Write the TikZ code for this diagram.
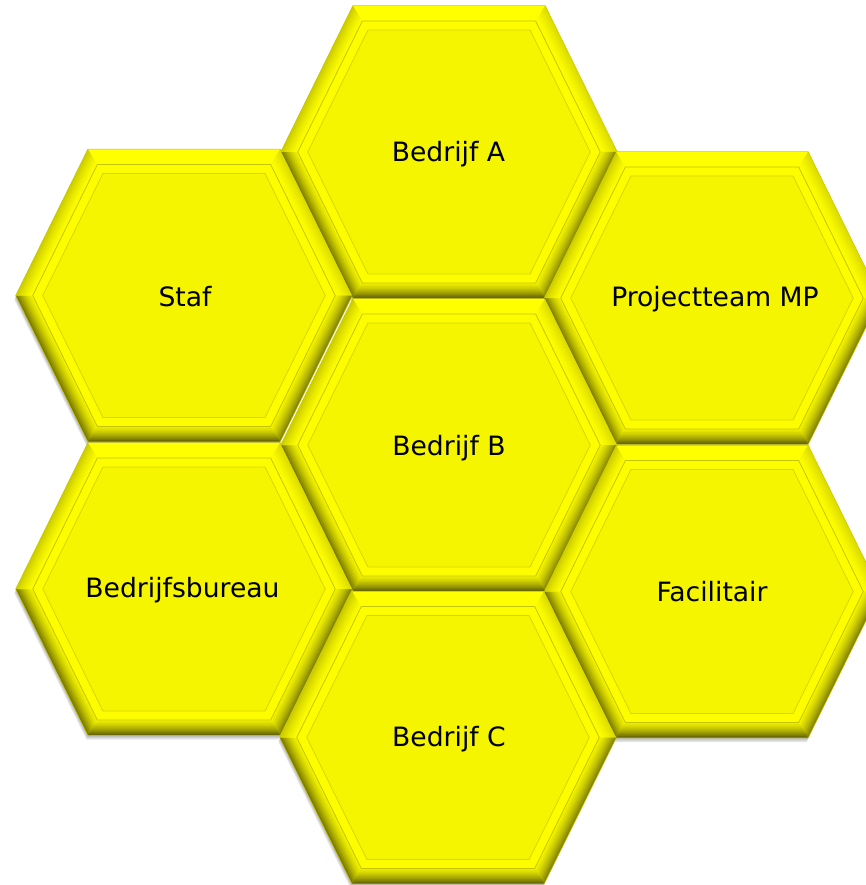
\documentclass[tikz,border=0pt]{standalone}
\usepackage{fontspec}
\setmainfont{DejaVu Sans}
\definecolor{baseC}{RGB}{200,200,0}
\definecolor{faceC}{RGB}{245,245,0}
\definecolor{bandC}{RGB}{253,253,0}
\definecolor{lineA}{RGB}{196,196,0}
\definecolor{lineB}{RGB}{214,214,0}
\definecolor{topO}{RGB}{255,255,0}
\definecolor{topI}{RGB}{255,255,0}
\definecolor{ulO}{RGB}{205,205,0}
\definecolor{ulI}{RGB}{255,255,0}
\definecolor{urO}{RGB}{220,220,0}
\definecolor{urI}{RGB}{255,255,0}
\definecolor{lrO}{RGB}{135,135,0}
\definecolor{lrI}{RGB}{245,245,0}
\definecolor{btO}{RGB}{105,105,0}
\definecolor{btI}{RGB}{240,240,0}
\definecolor{llO}{RGB}{125,125,0}
\definecolor{llI}{RGB}{245,245,0}
\tikzset{
  hexlabel/.style={font=\fontsize{26.6}{30}\selectfont, text=black, anchor=base, inner sep=0pt},
  hexshadowlayer/.style={fill=black, fill opacity=0.10},
}
% outer hexagon path (relative)
\newcommand\outerhex{(-168,0) -- (-96,-146) -- (96,-146) -- (168,0) -- (96,146) -- (-96,146) -- cycle}
\newcommand\hexcell[6]{% #1 name, #2 cx, #3 cy, #4 label x, #5 label baseline y, #6 text
  \begin{scope}[shift={(#2,#3)}]
    \coordinate (#1) at (0,0);
    \def\Wi{151.27}\def\Ti{86.67}\def\Hi{131}%
    \foreach \i in {0,...,9}{%
      \pgfmathsetmacro\bb{1.5*\i}%
      \pgfmathtruncatemacro\pp{100*(1-\i/10)^1.4}%
      \pgfmathsetmacro\Wb{168-1.1151*\bb}%
      \pgfmathsetmacro\Tb{96-0.6219*\bb}%
      \pgfmathsetmacro\Hb{146-\bb}%
      \fill[topO!\pp!topI] (-\Tb,-\Hb) -- (\Tb,-\Hb) -- (\Ti,-\Hi) -- (-\Ti,-\Hi) -- cycle;
      \fill[urO!\pp!urI] (\Tb,-\Hb) -- (\Wb,0) -- (\Wi,0) -- (\Ti,-\Hi) -- cycle;
      \fill[lrO!\pp!lrI] (\Wb,0) -- (\Tb,\Hb) -- (\Ti,\Hi) -- (\Wi,0) -- cycle;
      \fill[btO!\pp!btI] (\Tb,\Hb) -- (-\Tb,\Hb) -- (-\Ti,\Hi) -- (\Ti,\Hi) -- cycle;
      \fill[llO!\pp!llI] (-\Tb,\Hb) -- (-\Wb,0) -- (-\Wi,0) -- (-\Ti,\Hi) -- cycle;
      \fill[ulO!\pp!ulI] (-\Wb,0) -- (-\Tb,-\Hb) -- (-\Ti,-\Hi) -- (-\Wi,0) -- cycle;
    }
    \filldraw[fill=bandC, draw=lineA, line width=0.8pt]
      (-\Ti,-\Hi) -- (\Ti,-\Hi) -- (\Wi,0) -- (\Ti,\Hi) -- (-\Ti,\Hi) -- (-\Wi,0) -- cycle;
    \filldraw[fill=faceC, draw=lineB, line width=0.8pt]
      (-81.07,-122) -- (81.07,-122) -- (141.24,0) -- (81.07,122) -- (-81.07,122) -- (-141.24,0) -- cycle;
  \end{scope}
  \node[hexlabel] (#1-label) at (#4,#5) {#6};
}
\begin{document}
\begin{tikzpicture}[x=1pt, y=-1pt]
  \useasboundingbox (0,0) rectangle (866,885);
  \clip (0,0) rectangle (866,885);
  % soft shadows
  \foreach \cx/\cy in {449/152, 449/445, 448/737.5, 184/295.5, 184/589, 712/298, 712/591.5}{
    \foreach \dx/\dy in {-0.5/1.5, -1/3, -1.5/4.5}{
      \fill[hexshadowlayer, shift={(\cx+\dx,\cy+\dy)}] \outerhex;
    }
  }
  % base layer (closes seams between neighbouring cells)
  \foreach \cx/\cy in {449/152, 449/445, 448/737.5, 184/295.5, 184/589, 712/298, 712/591.5}{
    \filldraw[fill=baseC, draw=baseC, line width=1.2pt, shift={(\cx,\cy)}] \outerhex;
  }
  \hexcell{bedrijfA}{449}{152}{448.5}{162}{Bedrijf A}
  \hexcell{staf}{184}{295.5}{185}{306.5}{Staf}
  \hexcell{project}{712}{298}{715}{306.7}{Projectteam MP}
  \hexcell{bedrijfB}{449}{445}{449}{455.5}{Bedrijf B}
  \hexcell{bureau}{184}{589}{182.5}{597.3}{Bedrijfsbureau}
  \hexcell{facilitair}{712}{591.5}{712}{601.7}{Facilitair}
  \hexcell{bedrijfC}{448}{737.5}{449}{746.7}{Bedrijf C}
\end{tikzpicture}
\end{document}
